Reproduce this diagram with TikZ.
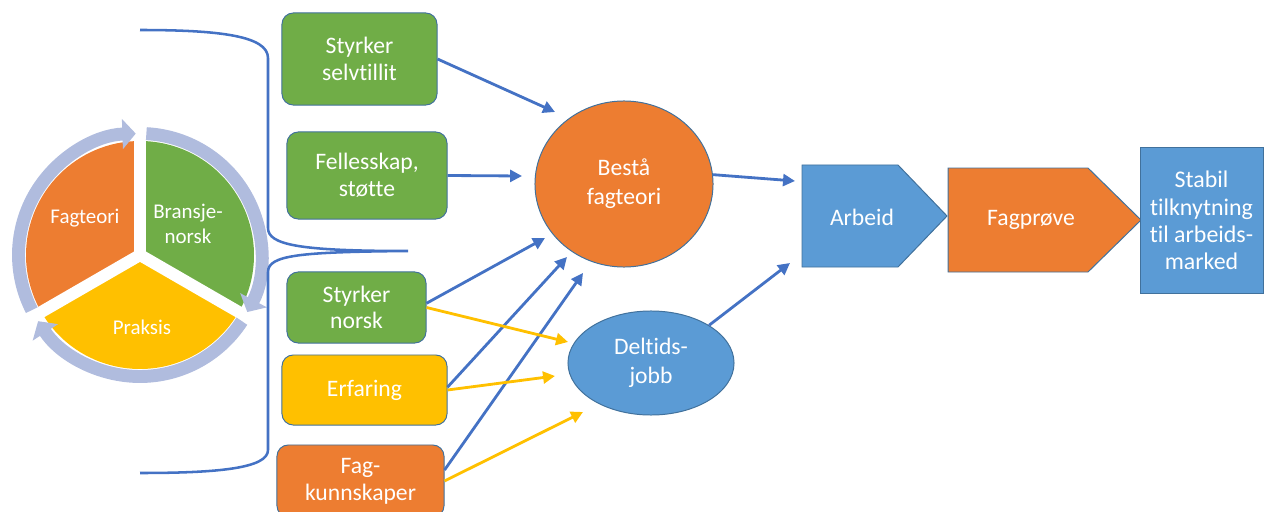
\documentclass[tikz,border=0pt]{standalone}
\usepackage{fontspec}
\setmainfont{Carlito}[Ligatures={NoCommon}]
\usepackage{tikz}
\usetikzlibrary{positioning, calc}
\usetikzlibrary{shapes.geometric}
\usetikzlibrary{arrows.meta}

\definecolor{lineblue}{HTML}{4472C4}
\definecolor{accgreen}{HTML}{70AD47}
\definecolor{accorange}{HTML}{ED7D31}
\definecolor{accyellow}{HTML}{FFC000}
\definecolor{accblue}{HTML}{5B9BD5}
\definecolor{ringblue}{RGB}{176,188,222}
\definecolor{edgeblue}{HTML}{41719C}

\tikzset{
  tekst/.style={text=white, align=center, inner sep=1pt, font=\fontsize{16.8}{19}\selectfont},
  boks/.style={tekst, draw=edgeblue, line width=0.7pt, rounded corners=8pt},
  pil/.style={line width=2pt, -{Triangle[length=8.5pt,width=8.5pt]}},
  ring/.style={ringblue, line width=9.2pt, -{Triangle[length=9.5pt,width=21pt]}},
  pietekst/.style={text=white, align=center, inner sep=1pt, font=\fontsize{14.9}{17.8}\selectfont}
}

\begin{document}
\begin{tikzpicture}[x=0.025cm, y=0.025cm]
                \useasboundingbox (0,0) rectangle (1265,-512);
                % sirkel med tre deler
                \coordinate (pc) at (140,-255);
                \fill[accorange] (pc) -- ++(90:114) arc[start angle=90, end angle=210, radius=114] -- cycle;
                \fill[accyellow] (pc) -- ++(210:114) arc[start angle=210, end angle=330, radius=114] -- cycle;
                \fill[accgreen] (pc) -- ++(-30:114) arc[start angle=-30, end angle=90, radius=114] -- cycle;
                \foreach \v in {90,210,330}
                    \draw[white, line width=8.5pt] (pc) -- ++(\v:116);
                \foreach \s/\e in {207/92, 87/-28, -33/-147}
                    \draw[ring] (pc) ++(\s:121.5) arc[start angle=\s, end angle=\e, radius=121.5];
                \node[pietekst] (fagteori) at (85,-218) {Fagteori};
                \node[pietekst] (bransje) at (188,-224) {Bransje-\\norsk};
                \node[pietekst] (praksis) at (142,-327) {Praksis};
                % klamme
                \draw[lineblue, line width=1.8pt] (140,-30) .. controls (220,-30) and (268,-36) .. (268,-58) -- (268,-228)
                    .. controls (268,-245) and (300,-251) .. (408,-251)
                    .. controls (300,-252) and (268,-255) .. (268,-272) -- (268,-450)
                    .. controls (268,-468) and (220,-473) .. (140,-473);
                % bokser
                \node[boks, fill=accgreen, minimum width=3.875cm, minimum height=2.3cm] (selvtillit) at (359.5,-59) {Styrker\\selvtillit};
                \node[boks, fill=accgreen, minimum width=4cm, minimum height=2.175cm] (fellesskap) at (367,-175.5) {Fellesskap,\\støtte};
                \node[boks, fill=accgreen, minimum width=3.475cm, minimum height=1.775cm] (norsk) at (356.5,-307.5) {Styrker\\norsk};
                \node[boks, fill=accyellow, minimum width=4.125cm, minimum height=1.75cm] (erfaring) at (364.5,-390) {Erfaring};
                \node[boks, fill=accorange, minimum width=4.175cm, minimum height=1.8cm] (fagkunn) at (360.5,-481) {Fag-\\kunnskaper};
                \node[tekst, ellipse, draw=edgeblue, line width=0.7pt, fill=accorange, minimum width=4.45cm, minimum height=4.15cm, font=\fontsize{16.8}{20.6}\selectfont] (besta) at (624,-184) {Bestå\\fagteori};
                \node[tekst, ellipse, draw=edgeblue, line width=0.7pt, fill=accblue, minimum width=4.15cm, minimum height=2.6cm, font=\fontsize{16.8}{20.2}\selectfont] (deltids) at (651,-363) {Deltids-\\jobb};
                % pilformer
                \filldraw[fill=accblue, draw=edgeblue, line width=0.7pt] (802,-165) -- (898,-165) -- (947,-216) -- (898,-267) -- (802,-267) -- cycle;
                \node[tekst] (arbeid) at (862,-217) {Arbeid};
                \filldraw[fill=accorange, draw=edgeblue, line width=0.7pt] (948,-168) -- (1088,-168) -- (1141,-220) -- (1088,-272) -- (948,-272) -- cycle;
                \node[tekst] (fagprove) at (1031,-220) {Fagprøve};
                \node[tekst, draw=edgeblue, line width=0.7pt, fill=accblue, minimum width=3.075cm, minimum height=3.625cm, font=\fontsize{17}{19.5}\selectfont] (stabil) at (1201.5,-220.5) {Stabil\\tilknytning\\til arbeids-\\marked};
                % pilspisser
                \coordinate (b1) at (555,-112);
                \coordinate (b2) at (522,-176);
                \coordinate (b3) at (545,-238);
                \coordinate (b4) at (567,-257);
                \coordinate (b5) at (583,-273);
                \coordinate (d1) at (568,-342);
                \coordinate (d2) at (555,-376);
                \coordinate (d3) at (583,-412);
                \coordinate (a1) at (795,-181);
                \coordinate (a2) at (790,-263);
                % piler
                \draw[pil, lineblue] (selvtillit.east) -- (b1);
                \draw[pil, lineblue] (fellesskap.east) -- (b2);
                \draw[pil, lineblue] ([yshift=3pt]norsk.east) -- (b3);
                \draw[pil, lineblue] ([yshift=2pt]erfaring.east) -- (b4);
                \draw[pil, lineblue] ([yshift=7.8pt]fagkunn.east) -- (b5);
                \draw[pil, accyellow] (norsk.east) -- (d1);
                \draw[pil, accyellow] (erfaring.east) -- (d2);
                \draw[pil, accyellow] (fagkunn.east) -- (d3);
                \draw[pil, lineblue] (besta.6) -- (a1);
                \draw[pil, lineblue] (deltids.33) -- (a2);
            \end{tikzpicture}
\end{document}
